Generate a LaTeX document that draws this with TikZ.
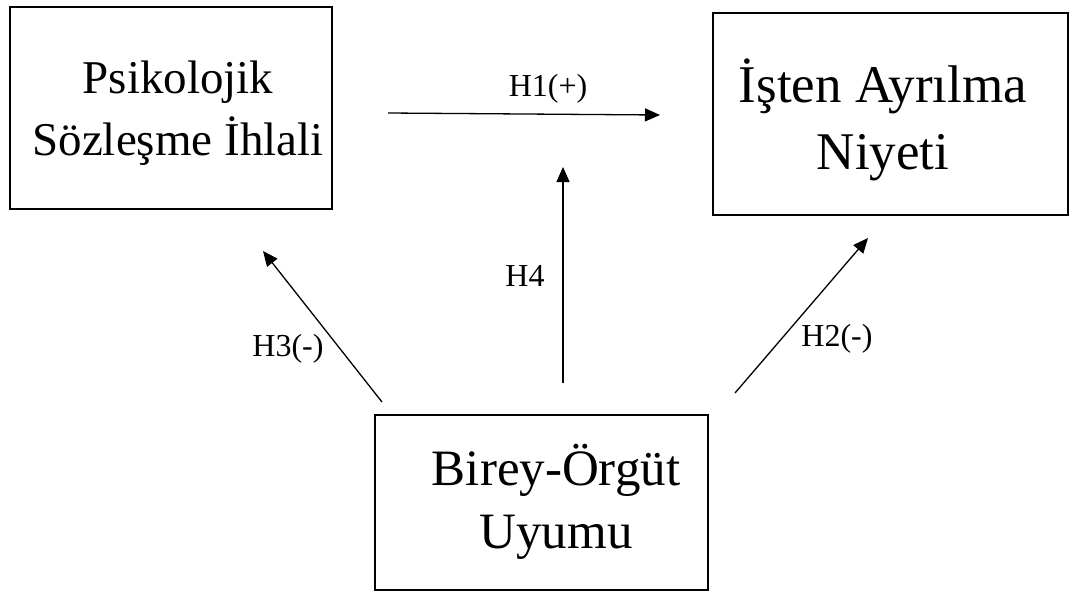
\documentclass[tikz,border=0pt]{standalone}
\usepackage{fontspec}
\setmainfont{Liberation Serif}
\usetikzlibrary{arrows.meta}
\tikzstyle{kutu}=[draw, line width=2pt, inner sep=0pt]
\tikzstyle{yazi}=[align=center, inner sep=0pt]
\tikzstyle{hip}=[-{Triangle[length=15pt,width=13pt]}, line width=1.3pt]
\tikzstyle{etiket}=[font=\fontsize{32}{38}\selectfont, inner sep=0pt]

\begin{document}
\begin{tikzpicture}[x=1pt,y=-1pt]
\useasboundingbox (0,0) rectangle (1075,592);
\node[kutu, minimum width=322pt, minimum height=202pt] (psi) at (171,108) {};
\node[kutu, minimum width=355pt, minimum height=202pt] (isten) at (890.5,114) {};
\node[kutu, minimum width=333pt, minimum height=175pt] (boy) at (541.5,502.5) {};
\node[yazi, font=\fontsize{47}{62}\selectfont] (psiyazi) at (178,113.5) {Psikolojik\\Sözleşme İhlali};
\node[yazi, font=\fontsize{53}{67}\selectfont] (istenyazi) at (883,119.5) {İşten Ayrılma\\Niyeti};
\node[yazi, font=\fontsize{51}{63}\selectfont] (boyyazi) at (556,502) {Birey-Örgüt\\Uyumu};
\coordinate (h1a) at (388,113);
\coordinate (h1b) at (660,115);
\coordinate (h4a) at (563,383);
\coordinate (h4b) at (563,167);
\coordinate (h3a) at (382,402);
\coordinate (h3b) at (263,251);
\coordinate (h2a) at (735,393);
\coordinate (h2b) at (868,238);
\foreach \a/\b in {h1a/h1b, h4a/h4b, h3a/h3b, h2a/h2b} {
	\draw[hip] (\a) -- (\b);
}
\node[etiket] (h1) at (548,89) {H1(+)};
\node[etiket] (h4) at (525,276) {H4};
\node[etiket] (h3) at (288,349) {H3(-)};
\node[etiket] (h2) at (837,339) {H2(-)};
\end{tikzpicture}
\end{document}
